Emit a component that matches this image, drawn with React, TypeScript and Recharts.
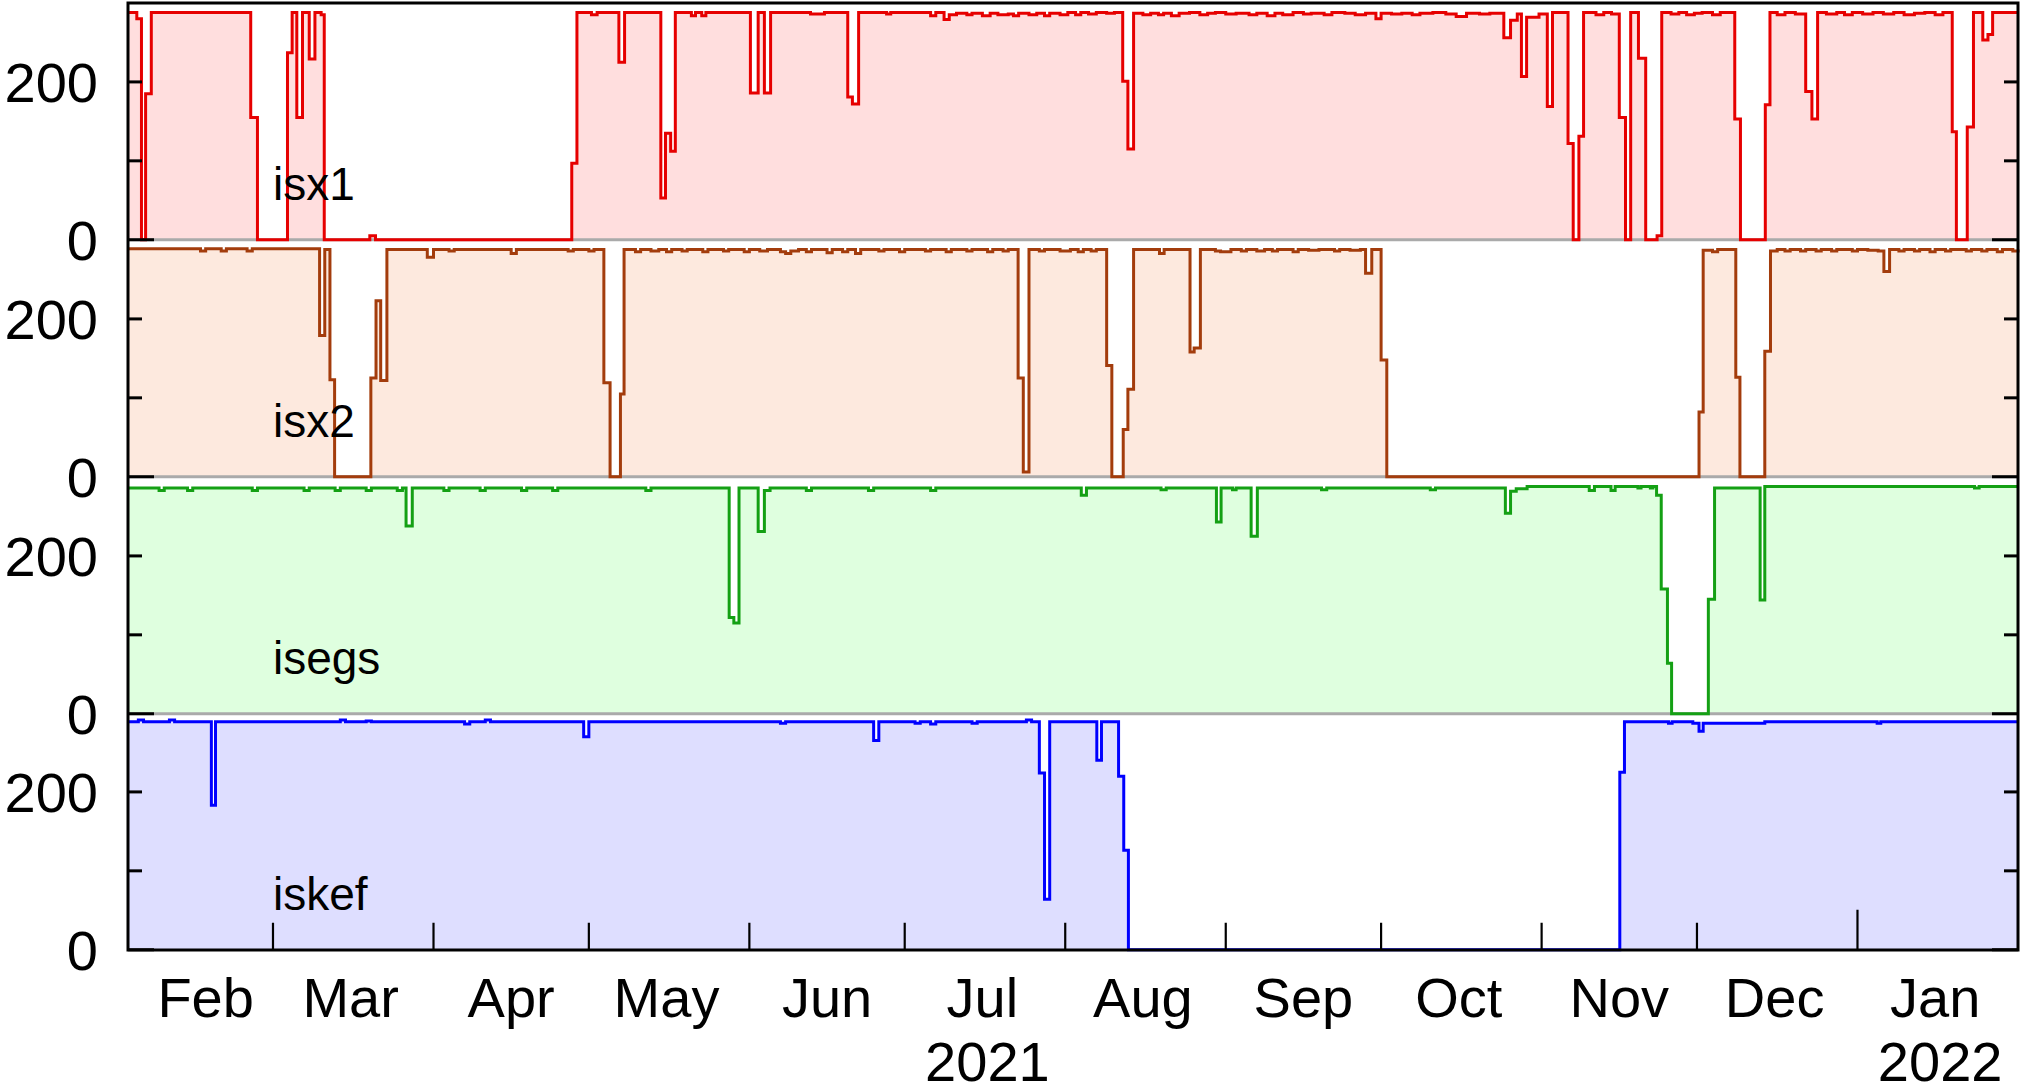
import { AreaChart, Area, LineChart, Line, XAxis, YAxis, ReferenceLine, ReferenceDot } from "recharts"

const W = 2021
const H = 1091
const PLOT_L = 128
const PLOT_R = 2018
const TOP = 3
const BOTTOM = 950
const PANEL_H = (BOTTOM - TOP) / 4
const FONT = "'Liberation Sans', Arial, sans-serif"

// x = days since 2021-02-01
const monthStarts = [0, 28, 59, 89, 120, 150, 181, 212, 242, 273, 303, 334, 365]
const monthNames = ["Feb", "Mar", "Apr", "May", "Jun", "Jul", "Aug", "Sep", "Oct", "Nov", "Dec", "Jan"]
const yearNames: Record<number, string> = { 5: "2021", 11: "2022" }
const yTicks = [0, 100, 200]

// [day, value] change points, step after
const isx1: [number, number][] = [
  [0, 288], [1.7, 280], [2.6, 0], [3.4, 185], [4.5, 288], [23.7, 155], [25, 0], [30.8, 237],
  [31.7, 288], [32.6, 155], [33.7, 288], [35, 229], [36.1, 288], [37.3, 285], [37.9, 0],
  [46.7, 5], [47.8, 0], [85.7, 97], [86.7, 288], [89.5, 285], [90.6, 288], [94.8, 225],
  [95.9, 288], [102.9, 53], [103.8, 135], [104.8, 112], [105.7, 288], [108.8, 284],
  [109.6, 288], [110.8, 284], [111.6, 288], [120.2, 186], [121.7, 288], [122.9, 186],
  [124.1, 288], [131.8, 286], [134.5, 288], [139, 181], [139.9, 172], [141.1, 288],
  [146.5, 286], [147.3, 288], [155, 284], [156, 288], [157.6, 279], [158.6, 285], [160, 287],
  [162, 285], [163, 287], [165, 284], [166.5, 287], [168, 285], [170, 286], [171, 284],
  [172, 287], [174, 285], [175.5, 287], [177, 284], [178, 287], [180, 285], [181.5, 288],
  [183, 285], [184, 288], [185.5, 286], [187, 288], [189, 287], [190.5, 288], [192.1, 201],
  [193.1, 115], [194.2, 287], [196, 285], [197.5, 287], [199, 285], [200, 287], [201.5, 284],
  [203, 287], [205, 288], [207, 285], [208.5, 287], [210, 288], [212, 286], [214, 287],
  [216.5, 285], [218, 287], [220, 284], [221.5, 287], [223, 285], [225, 288], [227, 286],
  [228.5, 287], [231, 285], [232.5, 288], [235, 287], [237, 285], [239, 287], [241, 280],
  [242, 287], [244, 286], [246, 287], [248, 285], [249.5, 287], [252, 288], [254.5, 286],
  [256.5, 283], [258.5, 287], [261, 286], [263, 287], [265.7, 256], [267, 278], [268.3, 286],
  [269.1, 207], [270.1, 282], [272.5, 286], [274.1, 169], [275.1, 288], [278.1, 122],
  [279.1, 0], [280.2, 131], [281.1, 288], [283.5, 285], [285, 288], [286.5, 286], [288, 155],
  [289.2, 0], [290.2, 288], [291.7, 230], [293.1, 0], [295.3, 5], [296.2, 288], [298, 286],
  [299.5, 288], [301, 285], [302.5, 287], [304, 288], [306, 285], [307.5, 288], [310.3, 153],
  [311.4, 0], [316.2, 171], [317.1, 288], [318.5, 285], [320, 288], [322, 286], [324, 188],
  [325.2, 153], [326.3, 288], [328, 286], [330, 288], [331.5, 285], [333, 288], [335, 286],
  [337, 288], [339, 286], [341, 288], [343, 285], [345, 287], [347, 288], [349, 285],
  [350.5, 288], [352.3, 137], [353.1, 0], [355.2, 143], [356.4, 288], [358.2, 253],
  [359.2, 260], [360.1, 288], [365, 288],
]

const isx2: [number, number][] = [
  [0, 289], [14, 286], [15, 289], [18, 286], [19, 289], [23, 286], [24, 289], [37, 179],
  [38, 288], [39, 123], [39.9, 0], [46.9, 125], [47.9, 223], [48.8, 122], [50, 288],
  [57.8, 278], [59, 288], [62, 286], [63, 288], [74, 283], [75, 288], [85, 286], [86, 288],
  [89, 286], [90, 288], [91.9, 119], [93.1, 0], [95.1, 105], [95.8, 288], [98, 285],
  [99, 288], [101, 286], [102.5, 288], [104, 285], [105, 288], [107, 286], [108, 288],
  [111, 285], [112, 288], [115, 286], [116, 288], [119, 285], [120, 288], [122, 286],
  [123.5, 288], [126, 285], [127, 283], [128, 286], [129.5, 288], [131, 285], [132, 288],
  [135, 284], [136, 288], [138, 285], [139, 288], [140.5, 283], [141.5, 288], [145, 286],
  [146, 288], [149, 285], [150, 288], [154, 286], [155, 288], [158, 285], [159, 288],
  [162, 286], [163, 288], [166, 285], [167, 288], [169, 286], [170, 288], [171.9, 125],
  [172.9, 6], [174, 288], [176, 286], [177, 288], [180, 286], [182, 288], [183.5, 285],
  [184.5, 288], [186, 286], [187, 288], [189, 141], [190, 0], [192.2, 60], [193.1, 111],
  [194.2, 288], [199.2, 283], [200.1, 288], [205.1, 158], [205.9, 163], [207.1, 288],
  [210, 286], [211, 285], [213, 288], [215, 286], [216, 288], [218, 286], [219.5, 288],
  [221, 286], [222, 288], [225, 285], [226, 288], [228, 287], [230, 288], [233, 286],
  [234, 288], [236, 287], [238, 288], [239, 258], [240.2, 288], [242, 148], [243.1, 0],
  [303.4, 82], [304.2, 287], [306, 285], [307, 288], [310.5, 126], [311.3, 0], [316.1, 159],
  [317.2, 286], [318.5, 288], [320, 286], [321, 288], [323, 286], [324, 288], [326, 286],
  [327, 288], [329, 286], [330, 288], [333, 286], [334, 288], [336, 287], [338, 286],
  [339.1, 260], [340.2, 288], [342, 286], [343, 288], [345, 286], [346, 288], [348, 285],
  [349, 288], [351, 286], [352, 288], [355, 286], [356, 288], [358, 286], [359, 288],
  [361, 285], [362, 288], [364, 286], [365, 288],
]

const isegs: [number, number][] = [
  [0, 286], [6, 283], [7, 286], [11.5, 283], [12.5, 286], [24, 283], [25, 286], [34, 283],
  [35, 286], [40, 283], [41, 286], [46, 283], [47, 286], [52, 283], [53, 286], [53.7, 238],
  [54.9, 286], [61, 283], [62, 286], [68, 283], [69, 286], [76, 283], [77, 286], [82, 283],
  [83, 286], [100, 283], [101, 286], [116.1, 122], [117, 115], [118, 286], [121.7, 231],
  [122.9, 283], [124, 286], [131, 283], [132, 286], [143, 283], [144, 286], [155, 283],
  [156, 286], [184.1, 277], [185.1, 286], [199.5, 284], [200.5, 286], [210.2, 243],
  [211.1, 286], [213.3, 284], [214, 286], [216.9, 225], [218.1, 286], [230.5, 284],
  [231.5, 286], [251.5, 284], [252.5, 286], [266, 254], [267, 282], [268.1, 285], [270.2, 288],
  [282.2, 283], [283.2, 288], [286.4, 283], [287.2, 288], [291.6, 286], [292.2, 288],
  [294, 286], [294.5, 288], [295.2, 277], [296.1, 158], [297.3, 64], [298.1, 0], [305.2, 145],
  [306.4, 286], [315.2, 144], [316.1, 288], [356.6, 286], [357.5, 288], [365, 288],
]

const iskef: [number, number][] = [
  [0, 289], [2, 291], [3, 289], [8, 291], [9, 289], [16.1, 183], [16.9, 289], [41, 291],
  [42, 289], [46, 290], [47, 289], [65, 286], [66, 289], [69, 291], [70, 289], [88, 270],
  [89, 289], [126, 287], [127, 289], [144, 265], [145, 289], [152, 287], [153, 289],
  [155, 286], [156, 289], [163, 287], [164, 289], [173.5, 291], [174.5, 289], [176, 224],
  [177, 64], [178, 289], [187.1, 240], [188, 289], [191.3, 220], [192.3, 126], [193.2, 0],
  [288.1, 225], [289, 289], [297.5, 287], [298.2, 289], [302.2, 287], [303.4, 277],
  [304.2, 287], [316.1, 289], [337.8, 287], [338.5, 289], [365, 289],
]

const panels = [
  { name: "isx1", points: isx1, stroke: "#e60000", fill: "#ffdede" },
  { name: "isx2", points: isx2, stroke: "#a33c0c", fill: "#fde9de" },
  { name: "isegs", points: isegs, stroke: "#14a014", fill: "#dfffdf" },
  { name: "iskef", points: iskef, stroke: "#0000ff", fill: "#dedeff" },
]

const labelDays = monthStarts.slice(0, 12).map((d) => d + 15)
const innerStarts = monthStarts.slice(1, 12)

function toRows(points: [number, number][]) {
  return points.map(([day, v]) => ({ day, v }))
}

function YTick(props: any) {
  const { x, y, payload } = props
  const v = payload.value
  const len = v === 0 ? 26 : 14
  return (
    <g>
      <line x1={x} x2={x + len} y1={y} y2={y} stroke="#000" strokeWidth={3} />
      <line x1={PLOT_R - len} x2={PLOT_R} y1={y} y2={y} stroke="#000" strokeWidth={3} />
      {v !== 100 && (
        <text x={x - 30} y={y} dy="0.36em" textAnchor="end" fontSize={56} fontFamily={FONT} fill="#000">
          {v}
        </text>
      )}
    </g>
  )
}

function TopTick(props: any) {
  const { x, y, payload } = props
  const len = payload.value === 334 ? 40 : 27
  return <line x1={x} x2={x} y1={y} y2={y + len} stroke="#000" strokeWidth={2.2} />
}

function BottomTick(props: any) {
  const { x, y, payload } = props
  const si = monthStarts.indexOf(payload.value)
  if (si >= 0) {
    const len = si === 11 ? 40 : 27
    return <line x1={x} x2={x} y1={y} y2={y - len} stroke="#000" strokeWidth={2.2} />
  }
  const mi = labelDays.indexOf(payload.value)
  return (
    <g>
      <text x={x} y={y + 67} textAnchor="middle" fontSize={56} fontFamily={FONT} fill="#000">
        {monthNames[mi]}
      </text>
      {yearNames[mi] && (
        <text x={x + 5} y={y + 131} textAnchor="middle" fontSize={56} fontFamily={FONT} fill="#000">
          {yearNames[mi]}
        </text>
      )}
    </g>
  )
}

// bottom layer: fills and grey zero lines
function FillPanel({ idx }: { idx: number }) {
  const p = panels[idx]
  return (
    <div style={{ position: "absolute", left: 0, top: TOP + idx * PANEL_H, width: W, height: PANEL_H }}>
      <AreaChart
        width={W}
        height={PANEL_H}
        data={toRows(p.points)}
        margin={{ top: 0, right: W - PLOT_R, bottom: 0, left: PLOT_L }}
      >
        <XAxis type="number" dataKey="day" domain={[0, 365]} hide />
        <YAxis type="number" domain={[0, 300]} hide />
        <Area
          type="stepAfter"
          dataKey="v"
          stroke="none"
          fill={p.fill}
          fillOpacity={1}
          dot={false}
          activeDot={false}
          isAnimationActive={false}
        />
        {idx < 3 && <ReferenceLine y={0} stroke="#aaaaaa" strokeWidth={3} />}
      </AreaChart>
    </div>
  )
}

// top layer: step lines, axes, labels
function LinePanel({ idx }: { idx: number }) {
  const p = panels[idx]
  const last = idx === 3
  const axisH = last ? H - BOTTOM : 0
  const labelShape = (s: any) => (
    <text x={s.cx} y={s.cy} fontSize={46} fontFamily={FONT} fill="#000">
      {p.name}
    </text>
  )
  return (
    <div style={{ position: "absolute", left: 0, top: TOP + idx * PANEL_H, width: W, height: PANEL_H + axisH }}>
      <LineChart
        width={W}
        height={PANEL_H + axisH}
        data={toRows(p.points)}
        margin={{ top: 0, right: W - PLOT_R, bottom: 0, left: 0 }}
      >
        {idx === 0 && (
          <XAxis
            type="number"
            dataKey="day"
            domain={[0, 365]}
            orientation="top"
            height={0}
            ticks={innerStarts}
            interval={0}
            axisLine={false}
            tickLine={false}
            tickSize={0}
            tickMargin={0}
            tick={TopTick}
          />
        )}
        {(idx === 1 || idx === 2) && <XAxis type="number" dataKey="day" domain={[0, 365]} hide />}
        {last && (
          <XAxis
            type="number"
            dataKey="day"
            domain={[0, 365]}
            height={axisH}
            ticks={[...innerStarts, ...labelDays]}
            interval={0}
            axisLine={false}
            tickLine={false}
            tickSize={0}
            tickMargin={0}
            tick={BottomTick}
          />
        )}
        <YAxis
          type="number"
          domain={[0, 300]}
          ticks={yTicks}
          interval={0}
          width={PLOT_L}
          axisLine={false}
          tickLine={false}
          tickSize={0}
          tickMargin={0}
          tick={YTick}
        />
        <Line
          type="stepAfter"
          dataKey="v"
          stroke={p.stroke}
          strokeWidth={3}
          dot={false}
          activeDot={false}
          isAnimationActive={false}
        />
        <ReferenceDot x={28} y={50} r={0} shape={labelShape} />
      </LineChart>
    </div>
  )
}

export default function App() {
  return (
    <div style={{ position: "absolute", left: 0, top: 0, width: W, height: H, background: "#fff" }}>
      <style>{".recharts-surface{overflow:visible}"}</style>
      {panels.map((_, i) => (
        <FillPanel key={"f" + i} idx={i} />
      ))}
      {panels.map((_, i) => (
        <LinePanel key={"l" + i} idx={i} />
      ))}
      <svg width={W} height={H} style={{ position: "absolute", left: 0, top: 0, pointerEvents: "none" }}>
        <rect x={PLOT_L} y={TOP} width={PLOT_R - PLOT_L} height={BOTTOM - TOP} fill="none" stroke="#000" strokeWidth={3} />
      </svg>
    </div>
  )
}
